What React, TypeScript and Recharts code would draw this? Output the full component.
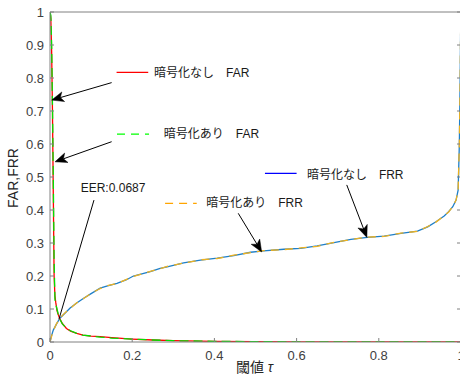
import React from 'react';
import { LineChart, Line, XAxis, YAxis, ReferenceLine, ReferenceDot, Label } from 'recharts';

// ---- data ----
const farThresholds = [0, 0.002, 0.004, 0.006, 0.008, 0.01, 0.012, 0.014, 0.017, 0.02, 0.024, 0.03, 0.04, 0.05, 0.065, 0.08, 0.1, 0.122, 0.15, 0.2, 0.25, 0.3, 0.4, 0.5, 0.6, 0.8, 1];
const farPlain = [1, 0.98, 0.88, 0.7, 0.45, 0.2, 0.14, 0.12, 0.095, 0.083, 0.07, 0.056, 0.041, 0.033, 0.026, 0.021, 0.018, 0.016, 0.013, 0.009, 0.006, 0.004, 0.002, 0.001, 0.0005, 0, 0];
const farEncrypted = [1, 0.99, 0.9, 0.72, 0.5, 0.25, 0.13, 0.115, 0.1, 0.085, 0.069, 0.055, 0.042, 0.034, 0.026, 0.021, 0.018, 0.015, 0.012, 0.009, 0.006, 0.004, 0.002, 0.001, 0.0005, 0, 0];

const frrThresholds = [0, 0.004, 0.008, 0.016, 0.024, 0.032, 0.049, 0.065, 0.081, 0.098, 0.122, 0.14, 0.163, 0.185, 0.203, 0.244, 0.268, 0.285, 0.325, 0.366, 0.407, 0.447, 0.488, 0.52, 0.569, 0.61, 0.65, 0.691, 0.732, 0.772, 0.813, 0.854, 0.894, 0.919, 0.94, 0.959, 0.97, 0.98, 0.988, 0.993, 0.996, 0.998, 0.999, 1];
const frrPlain = [0, 0.02, 0.036, 0.055, 0.072, 0.082, 0.103, 0.118, 0.132, 0.145, 0.163, 0.17, 0.178, 0.188, 0.2, 0.213, 0.223, 0.228, 0.24, 0.248, 0.254, 0.262, 0.272, 0.276, 0.281, 0.284, 0.291, 0.301, 0.311, 0.317, 0.321, 0.329, 0.336, 0.349, 0.365, 0.382, 0.395, 0.41, 0.43, 0.46, 0.6, 0.8, 0.93, 1];
const frrEncrypted = [0, 0.018, 0.034, 0.056, 0.071, 0.083, 0.102, 0.119, 0.131, 0.146, 0.162, 0.171, 0.177, 0.189, 0.199, 0.214, 0.222, 0.229, 0.239, 0.249, 0.253, 0.263, 0.271, 0.277, 0.28, 0.285, 0.29, 0.302, 0.31, 0.318, 0.32, 0.33, 0.335, 0.35, 0.364, 0.383, 0.394, 0.411, 0.43, 0.46, 0.6, 0.8, 0.93, 1];

const xTicks = [0, 0.2, 0.4, 0.6, 0.8, 1];
const yTicks = [0, 0.1, 0.2, 0.3, 0.4, 0.5, 0.6, 0.7, 0.8, 0.9, 1];

const seriesNames = ['暗号化なし\u3000FAR', '暗号化あり\u3000FAR', '暗号化なし\u3000FRR', '暗号化あり\u3000FRR'];
const eerValue = 0.0687;
const xAxisTitle = '閾値 ';
const xAxisSymbol = 'τ';
const yAxisTitle = 'FAR,FRR';

// annotation placements (data coordinates)
const legendSegments = [
  { x1: 0.162, x2: 0.239, y: 0.817, tx: 0.253, ty: 0.815, name: 0, color: '#ff0000', dash: undefined },
  { x1: 0.163, x2: 0.241, y: 0.63, tx: 0.277, ty: 0.63, name: 1, color: '#00ff00', dash: '8 6' },
  { x1: 0.523, x2: 0.6, y: 0.511, tx: 0.625, ty: 0.506, name: 2, color: '#0000ff', dash: undefined },
  { x1: 0.28, x2: 0.357, y: 0.42, tx: 0.38, ty: 0.42, name: 3, color: '#ffa500', dash: '8 6' },
];
const arrows = [
  { x1: 0.15, y1: 0.786, x2: 0.0041, y2: 0.733, head: true },
  { x1: 0.15, y1: 0.607, x2: 0.0122, y2: 0.546, head: true },
  { x1: 0.107, y1: 0.43, x2: 0.022, y2: 0.07, head: false },
  { x1: 0.722, y1: 0.476, x2: 0.771, y2: 0.317, head: true },
  { x1: 0.458, y1: 0.39, x2: 0.515, y2: 0.273, head: true },
];
const eerText = { x: 0.0747, y: 0.467 };

const farData = farThresholds.map((t, i) => ({ t, plain: farPlain[i], enc: farEncrypted[i] }));
const frrData = frrThresholds.map((t, i) => ({ t, plain: frrPlain[i], enc: frrEncrypted[i] }));

const AXIS = '#808080';
const TICKTEXT = '#404040';
const FONT = "'Liberation Sans', Arial, 'Noto Sans CJK JP', sans-serif";

const fmt = (v: number) => String(v);

const BottomTick = (p: any) => (
  <g>
    <line x1={p.x} y1={p.y} x2={p.x} y2={p.y - 4} stroke={AXIS} strokeWidth={1} />
    <text x={p.x} y={p.y + 13} textAnchor="middle" dominantBaseline="central" fontSize={13} fill={TICKTEXT} fontFamily={FONT}>
      {fmt(p.payload.value)}
    </text>
  </g>
);
const LeftTick = (p: any) => (
  <g>
    <line x1={p.x} y1={p.y} x2={p.x + 4} y2={p.y} stroke={AXIS} strokeWidth={1} />
    <text x={p.x - 6} y={p.y} textAnchor="end" dominantBaseline="central" fontSize={13} fill={TICKTEXT} fontFamily={FONT}>
      {fmt(p.payload.value)}
    </text>
  </g>
);
const TopTick = (p: any) => <line x1={p.x} y1={p.y} x2={p.x} y2={p.y + 4} stroke={AXIS} strokeWidth={1} />;
const RightTick = (p: any) => <line x1={p.x} y1={p.y} x2={p.x - 4} y2={p.y} stroke={AXIS} strokeWidth={1} />;

const makeArrow = (head: boolean) => (p: any) => {
  const { x1, y1, x2, y2 } = p;
  if (!head) return <line x1={x1} y1={y1} x2={x2} y2={y2} stroke="#000" strokeWidth={1} />;
  const dx = x2 - x1;
  const dy = y2 - y1;
  const len = Math.hypot(dx, dy) || 1;
  const ux = dx / len;
  const uy = dy / len;
  const L = 12;
  const W = 5;
  const notch = 3;
  const bx = x2 - ux * L;
  const by = y2 - uy * L;
  const nx = -uy;
  const ny = ux;
  const mx = x2 - ux * (L - notch);
  const my = y2 - uy * (L - notch);
  const pts = `${x2},${y2} ${bx + nx * W},${by + ny * W} ${mx},${my} ${bx - nx * W},${by - ny * W}`;
  return (
    <g>
      <line x1={x1} y1={y1} x2={mx} y2={my} stroke="#000" strokeWidth={1} />
      <polygon points={pts} fill="#000" stroke="#000" strokeWidth={0.5} />
    </g>
  );
};

const makeText = (txt: string) => (p: any) => (
  <text x={p.cx} y={p.cy} dominantBaseline="central" fontSize={12} fill="#1a1a1a" fontFamily={FONT}>
    {txt}
  </text>
);

export default function App() {
  return (
    <div style={{ position: 'absolute', left: 0, top: 0, width: 460, height: 377, overflow: 'hidden', background: '#fff' }}>
      <LineChart width={470} height={377} margin={{ top: 11, right: 8, bottom: 34, left: 0 }}>
        <XAxis
          dataKey="t"
          type="number"
          domain={[0, 1]}
          ticks={xTicks}
          interval={0}
          height={1}
          tickSize={0}
          tickMargin={0}
          tickLine={false}
          tick={<BottomTick />}
          axisLine={{ stroke: AXIS, strokeWidth: 1 }}
          allowDataOverflow
        >
          <Label
            content={(lp: any) => {
              const vb = lp.viewBox;
              return (
                <text x={vb.x + vb.width / 2 - 1} y={vb.y + 25} textAnchor="middle" dominantBaseline="central" fontSize={14} fill="#262626" fontFamily={FONT}>
                  {xAxisTitle}
                  <tspan fontStyle="italic">{xAxisSymbol}</tspan>
                </text>
              );
            }}
          />
        </XAxis>
        <XAxis
          xAxisId="top"
          orientation="top"
          type="number"
          domain={[0, 1]}
          ticks={xTicks}
          interval={0}
          height={1}
          tickSize={0}
          tickMargin={0}
          tickLine={false}
          tick={<TopTick />}
          axisLine={{ stroke: AXIS, strokeWidth: 1 }}
          allowDataOverflow
        />
        <YAxis
          type="number"
          domain={[0, 1]}
          ticks={yTicks}
          interval={0}
          width={50}
          tickSize={0}
          tickMargin={0}
          tickLine={false}
          tick={<LeftTick />}
          axisLine={{ stroke: AXIS, strokeWidth: 1 }}
          allowDataOverflow
        >
          <Label
            content={(lp: any) => {
              const vb = lp.viewBox;
              const cx = vb.x + 13;
              const cy = vb.y + vb.height / 2 + 1;
              return (
                <text transform={`translate(${cx},${cy}) rotate(-90)`} textAnchor="middle" dominantBaseline="central" fontSize={14} fill="#262626" fontFamily={FONT}>
                  {yAxisTitle}
                </text>
              );
            }}
          />
        </YAxis>
        <YAxis
          yAxisId="right"
          orientation="right"
          type="number"
          domain={[0, 1]}
          ticks={yTicks}
          interval={0}
          width={1}
          tickSize={0}
          tickMargin={0}
          tickLine={false}
          tick={<RightTick />}
          axisLine={{ stroke: AXIS, strokeWidth: 1 }}
          allowDataOverflow
        />

        <Line data={frrData} dataKey="plain" name={seriesNames[2]} type="linear" stroke="#1f7fc8" strokeWidth={1.3} dot={false} isAnimationActive={false} />
        <Line data={frrData} dataKey="enc" name={seriesNames[3]} type="linear" stroke="#EDB120" strokeWidth={1.3} strokeDasharray="8 6" dot={false} isAnimationActive={false} />
        <Line data={farData} dataKey="plain" name={seriesNames[0]} type="linear" stroke="#ff0000" strokeWidth={1.3} dot={false} isAnimationActive={false} />
        <Line data={farData} dataKey="enc" name={seriesNames[1]} type="linear" stroke="#00e000" strokeWidth={1.3} strokeDasharray="9 5" dot={false} isAnimationActive={false} />

        {legendSegments.map((s, i) => (
          <ReferenceLine
            key={`seg${i}`}
            segment={[{ x: s.x1, y: s.y }, { x: s.x2, y: s.y }]}
            stroke={s.color}
            strokeWidth={1.2}
            strokeDasharray={s.dash}
            ifOverflow="visible"
          />
        ))}
        {legendSegments.map((s, i) => (
          <ReferenceDot key={`txt${i}`} x={s.tx} y={s.ty} r={0} ifOverflow="visible" shape={makeText(seriesNames[s.name])} />
        ))}
        <ReferenceDot x={eerText.x} y={eerText.y} r={0} ifOverflow="visible" shape={makeText(`EER:${eerValue}`)} />
        {arrows.map((a, i) => (
          <ReferenceLine
            key={`arr${i}`}
            segment={[{ x: a.x1, y: a.y1 }, { x: a.x2, y: a.y2 }]}
            stroke="#000"
            ifOverflow="visible"
            shape={makeArrow(a.head)}
          />
        ))}
      </LineChart>
    </div>
  );
}
